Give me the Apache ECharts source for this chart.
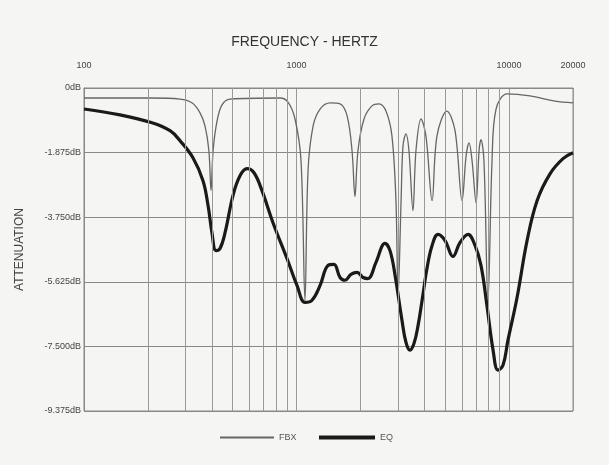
<!DOCTYPE html>
<html>
<head>
<meta charset="utf-8">
<script src="https://cdn.jsdelivr.net/npm/echarts@6/dist/echarts.min.js"></script>
<style>
html,body{margin:0;padding:0;background:#f5f5f3;}
#c{width:609px;height:465px;}
</style>
</head>
<body>
<div id="c"></div>
<script>
// Frequencies (Hz) and attenuation (dB)
const fbxFreq = [100,204.5,283,322,351.5,371,387,396,405,423,446,486,836,912,984,1050,1096,1133,1197,1291,1439,1603,1730,1825,1884,1946,2078,2265,2443,2636,2812,2937,3006,3105,3170,3273,3381,3532,3648,3855,4064,4345,4581,5105,5572,6012,6280,6486,6699,6998,7228,7379,7621,7962,8318,8690,9795,12560,16450,20000];
const fbxDb = [-0.29,-0.29,-0.32,-0.43,-0.72,-1.10,-1.82,-2.98,-1.82,-0.95,-0.49,-0.32,-0.29,-0.41,-0.90,-2.11,-6.16,-2.40,-1.10,-0.61,-0.43,-0.46,-0.81,-1.82,-3.15,-1.82,-0.90,-0.52,-0.46,-0.67,-1.39,-3.27,-6.02,-3.27,-1.68,-1.33,-1.82,-3.56,-1.82,-0.90,-1.39,-3.27,-1.39,-0.67,-1.24,-3.27,-1.97,-1.59,-2.11,-3.33,-1.82,-1.50,-2.11,-6.16,-2.11,-0.61,-0.17,-0.23,-0.38,-0.43];
const eqFreq = [100,147.6,208.9,254,283,326,363,383.5,400,418,436.5,461,502,542,585,631,688,775,902,1005,1096,1183,1291,1406,1500,1603,1690,1803,1927,2056,2168,2366,2608,2754,2909,3135,3273,3420,3573,3733,3899,4111,4345,4634,5000,5445,5875,6412,6918,7379,7870,8414,8872,9376,9886,10910,12160,13550,15590,17950,20000];
const eqDb = [-0.61,-0.78,-1.01,-1.24,-1.53,-2.03,-2.69,-3.41,-4.20,-4.72,-4.66,-4.20,-3.13,-2.55,-2.34,-2.46,-2.98,-3.91,-4.95,-5.73,-6.22,-6.16,-5.73,-5.15,-5.12,-5.50,-5.58,-5.41,-5.35,-5.50,-5.53,-5.06,-4.51,-4.72,-5.44,-6.74,-7.38,-7.61,-7.41,-6.89,-6.16,-5.24,-4.57,-4.25,-4.43,-4.89,-4.49,-4.25,-4.57,-5.15,-6.31,-7.61,-8.19,-8.04,-7.32,-6.08,-4.43,-3.27,-2.49,-2.05,-1.88];
const minorFreqs = [200,300,400,500,600,700,800,900,2000,3000,4000,5000,6000,7000,8000,9000];
const seriesNames = ['FBX','EQ'];

const zip = (a,b)=>a.map((v,i)=>[v,b[i]]);
const FONT = "'Liberation Sans Narrow','Liberation Sans',Arial,sans-serif";
const legendText = {fontFamily:FONT,fontSize:9,color:'#555'};
const chart = echarts.init(document.getElementById('c'));
chart.setOption({
  backgroundColor:'#f5f5f3',
  animation:false,
  title:{text:'FREQUENCY - HERTZ',left:'center',top:30,
    textStyle:{fontFamily:FONT,fontSize:14,fontWeight:'normal',color:'#333'}},
  grid:{left:84,right:36,top:88,bottom:54,show:true,borderColor:'#888',borderWidth:1,backgroundColor:'transparent'},
  legend:[
    {left:215,top:428,icon:'rect',itemWidth:54,itemHeight:2,itemGap:8,textStyle:legendText,data:[seriesNames[0]]},
    {left:314,top:428,icon:'rect',itemWidth:56,itemHeight:4,itemGap:8,textStyle:legendText,data:[seriesNames[1]]}
  ],
  xAxis:{type:'log',logBase:10,min:100,max:20000,position:'top',
    axisLine:{show:true,lineStyle:{color:'#888'}},axisTick:{show:false},
    axisLabel:{fontFamily:FONT,fontSize:9,color:'#444',margin:18,showMaxLabel:true,
      formatter:v=>String(Math.round(v))},
    splitLine:{show:true,lineStyle:{color:'#999',width:1}}},
  yAxis:{type:'value',min:-9.375,max:0,interval:1.875,
    name:'ATTENUATION',nameLocation:'middle',nameGap:58,nameRotate:90,
    nameTextStyle:{fontFamily:FONT,fontSize:12,color:'#444'},
    axisLine:{show:true,lineStyle:{color:'#888'}},axisTick:{show:false},
    axisLabel:{fontFamily:FONT,fontSize:9,color:'#444',margin:3,
      formatter:v=>v===0?'0dB':v.toFixed(3)+'dB'},
    splitLine:{show:true,lineStyle:{color:'#888',width:1}}},
  series:[
    {name:'FBX',type:'line',data:zip(fbxFreq,fbxDb),smooth:0.35,symbol:'none',
      lineStyle:{color:'#666',width:1.3},itemStyle:{color:'#666'},z:3,
      markLine:{silent:true,symbol:'none',label:{show:false},animation:false,
        lineStyle:{color:'#999',width:1,type:'solid'},
        data:minorFreqs.map(f=>({xAxis:f}))}},
    {name:'EQ',type:'line',data:zip(eqFreq,eqDb),smooth:0.4,symbol:'none',
      lineStyle:{color:'#1a1a1a',width:3.2},itemStyle:{color:'#1a1a1a'},z:4}
  ]
});
</script>
</body>
</html>
